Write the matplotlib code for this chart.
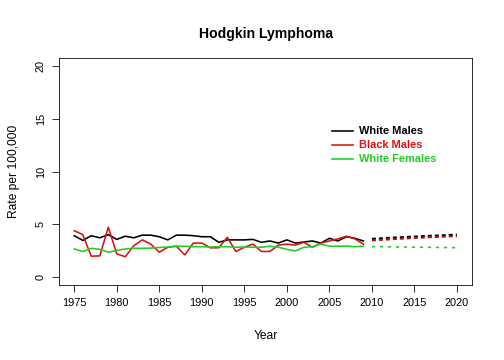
import numpy as np
import matplotlib
matplotlib.use("Agg")
import matplotlib.pyplot as plt

plt.rcParams['font.family'] = ['Liberation Sans', 'DejaVu Sans']

years = np.arange(1975, 2010)
white_males = [3.9, 3.45, 3.9, 3.7, 4.0, 3.55, 3.85, 3.7, 3.95, 3.95,
               3.8, 3.5, 3.95, 3.95, 3.9, 3.8, 3.8, 3.27, 3.5, 3.5,
               3.5, 3.55, 3.27, 3.4, 3.2, 3.5, 3.2, 3.3, 3.4, 3.2,
               3.65, 3.4, 3.8, 3.65, 3.4]
black_males = [4.37, 4.0, 1.95, 1.98, 4.7, 2.17, 1.9, 2.95, 3.5, 3.1,
               2.33, 2.8, 2.9, 2.07, 3.2, 3.2, 2.75, 2.75, 3.75, 2.4,
               2.8, 3.1, 2.4, 2.4, 3.0, 3.1, 3.0, 3.27, 2.8, 3.2,
               3.4, 3.6, 3.85, 3.6, 3.1]
white_females = [2.64, 2.4, 2.7, 2.6, 2.33, 2.5, 2.64, 2.7, 2.7, 2.72,
                 2.78, 2.82, 2.9, 2.9, 2.85, 2.85, 2.82, 2.85, 2.85, 2.8,
                 2.82, 2.8, 2.8, 2.9, 2.8, 2.6, 2.45, 2.8, 2.85, 3.1,
                 2.9, 2.9, 2.92, 2.85, 2.9]

proj_years = np.arange(2010, 2021)
proj_white_males = [3.6, 3.65, 3.7, 3.74, 3.78, 3.82, 3.86, 3.9, 3.93, 3.96, 4.0]
proj_black_males = [3.45, 3.5, 3.55, 3.6, 3.64, 3.68, 3.72, 3.76, 3.8, 3.83, 3.86]
proj_white_females = [2.86, 2.85, 2.84, 2.83, 2.82, 2.81, 2.8, 2.79, 2.78, 2.77, 2.76]

fig = plt.figure(figsize=(7, 5), dpi=72)
ax = fig.add_axes([0.117, 0.208, 0.82, 0.631])

ax.plot(years, white_males, color='black', lw=1.6)
ax.plot(years, black_males, color='#dd1111', lw=1.6)
ax.plot(years, white_females, color='#22cc22', lw=1.6)
ax.plot(proj_years, proj_white_males, color='black', lw=2, ls=(0, (2, 1.5)))
ax.plot(proj_years, proj_black_males, color='#aa1111', lw=2, ls=(0, (2, 1.5)))
ax.plot(proj_years, proj_white_females, color='#22cc22', lw=1.6, ls=(0, (2, 3)))

ax.set_xlim(1973.2, 2021.8)
ax.set_ylim(-0.8, 20.8)
ax.set_xticks(np.arange(1975, 2021, 5))
ax.set_yticks([0, 5, 10, 15, 20])
ax.tick_params(axis='both', direction='out', length=7, labelsize=11, pad=6)
for lab in ax.get_yticklabels():
    lab.set_rotation(90)
    lab.set_va('center')
ax.set_xlabel("Year", fontsize=12, labelpad=22)
ax.set_ylabel("Rate per 100,000", fontsize=12, labelpad=16)
ax.set_title("Hodgkin Lymphoma", fontsize=14, fontweight='bold', pad=20)

labels = ["White Males", "Black Males", "White Females"]
colors = ['black', '#dd1111', '#22cc22']
for i, (lab, c) in enumerate(zip(labels, colors)):
    yy = 13.9 - i * 1.35
    ax.plot([2005.3, 2007.8], [yy, yy], color=c, lw=1.6)
    ax.text(2008.5, yy, lab, color=c, fontsize=11, fontweight='bold', va='center')

fig.savefig("out.png", dpi=72)
